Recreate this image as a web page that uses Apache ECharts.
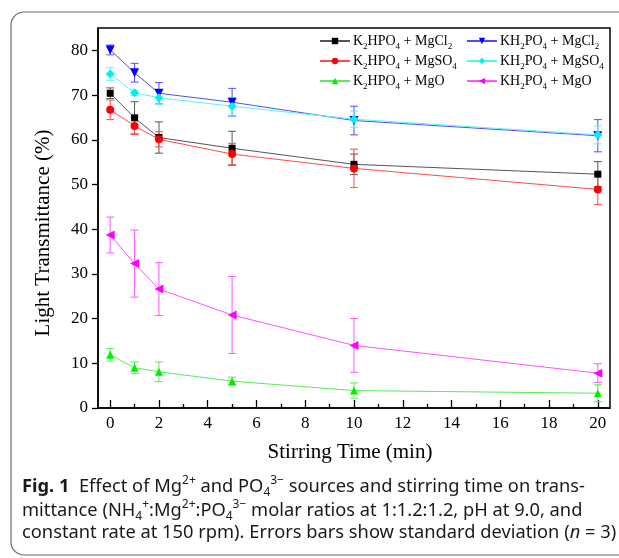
<!DOCTYPE html>
<html>
<head>
<meta charset="utf-8">
<script src="https://cdn.jsdelivr.net/npm/echarts@6/dist/echarts.min.js"></script>
<style>html,body{margin:0;padding:0;background:#fff}#c{width:619px;height:558px}</style>
</head>
<body>
<div id="c"></div>
<script>
// ---- data ----
const times = [0, 1, 2, 5, 10, 20];
const seriesNames = ['K2HPO4 + MgCl2', 'K2HPO4 + MgSO4', 'K2HPO4 + MgO', 'KH2PO4 + MgCl2', 'KH2PO4 + MgSO4', 'KH2PO4 + MgO'];
const k2hpo4_mgcl2 = [70.4, 64.9, 60.5, 58.1, 54.5, 52.3];
const k2hpo4_mgcl2_err = [1.2, 3.6, 3.5, 3.8, 2.3, 2.8];
const k2hpo4_mgso4 = [66.7, 63.1, 60.1, 56.8, 53.6, 48.9];
const k2hpo4_mgso4_err = [2.2, 1.9, 1.7, 2.4, 4.3, 3.4];
const k2hpo4_mgo = [11.9, 9.0, 8.1, 6.0, 3.9, 3.3];
const k2hpo4_mgo_err = [1.4, 1.3, 2.2, 0.9, 1.7, 1.9];
const kh2po4_mgcl2 = [80.1, 75.0, 70.4, 68.4, 64.3, 60.9];
const kh2po4_mgcl2_err = [1.1, 2.1, 2.4, 3.1, 3.2, 3.6];
const kh2po4_mgso4 = [74.7, 70.5, 69.4, 67.5, 64.6, 61.1];
const kh2po4_mgso4_err = [1.4, 0.6, 1.5, 2.0, 1.8, 2.0];
const kh2po4_mgo = [38.7, 32.3, 26.6, 20.8, 14.0, 7.8];
const kh2po4_mgo_err = [4.0, 7.5, 5.9, 8.6, 6.0, 2.1];
const yTicks = [0, 10, 20, 30, 40, 50, 60, 70, 80];
const xMajorTicks = [0, 2, 4, 6, 8, 10, 12, 14, 16, 18, 20];
const xMinorTicks = [1, 3, 5, 7, 9, 11, 13, 15, 17, 19];

// ---- styling ----
const values = [k2hpo4_mgcl2, k2hpo4_mgso4, k2hpo4_mgo, kh2po4_mgcl2, kh2po4_mgso4, kh2po4_mgo];
const errs = [k2hpo4_mgcl2_err, k2hpo4_mgso4_err, k2hpo4_mgo_err, kh2po4_mgcl2_err, kh2po4_mgso4_err, kh2po4_mgo_err];
const markerColors = ['#000000', '#ff0000', '#00ee00', '#0000ff', '#00f0f0', '#ff00ff'];
const lineColors = ['#555555', '#ff4a4a', '#55ee55', '#5050f0', '#55f5f5', '#ff55ff'];
const symbols = ['rect', 'circle', 'triangle', 'triangle', 'diamond', 'triangle'];
const symRot = [0, 0, 0, 180, 0, 90];
const symSizes = [7, 8, 8, 9, 9, 9];
const serif = '"Liberation Serif", "Times New Roman", serif';
const sans = '"Noto Sans", "Open Sans", sans-serif';

function legendLabel(name) {
  return name.replace(/([A-Za-z])(\d)/g, '$1{sub|$2}');
}

const series = [];
values.forEach((v, i) => {
  series.push({
    type: 'custom',
    name: 'err' + i,
    silent: true,
    z: 1,
    data: times.map((t, j) => [t, v[j], errs[i][j]]),
    encode: { x: 0, y: 1 },
    renderItem: function (params, api) {
      const x = api.value(0), y = api.value(1), e = api.value(2);
      const top = api.coord([x, y + e]);
      const bot = api.coord([x, y - e]);
      const w = 4;
      const st = { stroke: lineColors[i], lineWidth: 1 };
      return {
        type: 'group',
        children: [
          { type: 'line', shape: { x1: top[0], y1: top[1], x2: bot[0], y2: bot[1] }, style: st },
          { type: 'line', shape: { x1: top[0] - w, y1: top[1], x2: top[0] + w, y2: top[1] }, style: st },
          { type: 'line', shape: { x1: bot[0] - w, y1: bot[1], x2: bot[0] + w, y2: bot[1] }, style: st }
        ]
      };
    }
  });
});
values.forEach((v, i) => {
  series.push({
    type: 'line',
    name: seriesNames[i],
    data: times.map((t, j) => [t, v[j]]),
    symbol: symbols[i],
    symbolSize: symSizes[i],
    symbolRotate: symRot[i],
    showAllSymbol: true,
    z: 3,
    itemStyle: { color: markerColors[i], borderWidth: 0 },
    lineStyle: { color: lineColors[i], width: 1 },
    emphasis: { disabled: true },
    animation: false
  });
});

const richLegend = {
  n: { fontFamily: serif, fontSize: 14, color: '#000', lineHeight: 20 },
  sub: { fontFamily: serif, fontSize: 9, color: '#000', lineHeight: 9, verticalAlign: 'bottom' }
};
function mkLegend(left, names) {
  return {
    left: left, top: 31, orient: 'vertical',
    data: names,
    itemWidth: 30, itemHeight: 8, itemGap: 0,
    padding: 0,
    formatter: n => legendLabel(n),
    textStyle: { fontFamily: serif, fontSize: 14, color: '#000', lineHeight: 20, padding: [0, 0, 0, -2], rich: richLegend },
    selectedMode: false
  };
}

const capFs = 18.3;
const capStyle = {
  fontFamily: sans, fontSize: capFs, fill: '#1a1a1a',
  rich: {
    b: { fontFamily: sans, fontSize: capFs, fontWeight: 'bold', lineHeight: 24 },
    n: { fontFamily: sans, fontSize: capFs, lineHeight: 24 },
    sup: { fontFamily: sans, fontSize: 12, lineHeight: 14, verticalAlign: 'top' },
    sub: { fontFamily: sans, fontSize: 12, lineHeight: 12, verticalAlign: 'bottom' },
    it: { fontFamily: sans, fontSize: capFs, fontStyle: 'italic', lineHeight: 24 }
  }
};
const captionLines = [
  '{b|Fig. 1}{n|  Effect of Mg}{sup|2+}{n| and PO}{sub|4}{sup|3−}{n| sources and stirring time on trans-}',
  '{n|mittance (NH}{sub|4}{sup|+}{n|:Mg}{sup|2+}{n|:PO}{sub|4}{sup|3−}{n| molar ratios at 1:1.2:1.2, pH at 9.0, and}',
  '{n|constant rate at 150 rpm). Errors bars show standard deviation (}{it|n}{n| = 3)}'
];
const captionY = [475, 499, 524];

const chart = echarts.init(document.getElementById('c'), null, { renderer: 'canvas' });
chart.setOption({
  animation: false,
  backgroundColor: '#fff',
  grid: { left: 98, top: 28, right: 9, bottom: 150, show: true, borderColor: '#000', borderWidth: 1.5, backgroundColor: 'transparent' },
  legend: [
    mkLegend(319, [seriesNames[0], seriesNames[1], seriesNames[2]]),
    mkLegend(466, [seriesNames[3], seriesNames[4], seriesNames[5]])
  ],
  xAxis: [{
    type: 'value', min: -0.5, max: 20.5,
    name: 'Stirring Time (min)', nameLocation: 'middle', nameGap: 34,
    nameTextStyle: { fontFamily: serif, fontSize: 21, color: '#000', padding: [0, 8, 0, 0] },
    axisLine: { show: true, onZero: false, lineStyle: { color: '#000', width: 1.5 } },
    axisTick: { show: true, inside: true, length: 8, customValues: xMajorTicks, lineStyle: { color: '#000', width: 1.3 } },
    axisLabel: { customValues: xMajorTicks, fontFamily: serif, fontSize: 17, color: '#000', margin: 7 },
    splitLine: { show: false }
  }, {
    type: 'value', min: -0.5, max: 20.5, position: 'bottom',
    axisLine: { show: false },
    axisTick: { show: true, inside: true, length: 4, customValues: xMinorTicks, lineStyle: { color: '#000', width: 1.3 } },
    axisLabel: { show: false },
    splitLine: { show: false }
  }],
  yAxis: {
    type: 'value', min: 0, max: 85,
    name: 'Light Transmittance (%)', nameLocation: 'middle', nameGap: 44,
    nameTextStyle: { fontFamily: serif, fontSize: 21, color: '#000', padding: [0, 30, 0, 0] },
    axisLine: { show: true, onZero: false, lineStyle: { color: '#000', width: 1.5 } },
    axisTick: { show: true, inside: false, length: 6, customValues: yTicks, lineStyle: { color: '#000', width: 1.3 } },
    axisLabel: { customValues: yTicks, fontFamily: serif, fontSize: 17, color: '#000', margin: 10 },
    splitLine: { show: false }
  },
  series: series,
  graphic: [
    { type: 'rect', silent: true, shape: { x: 11, y: 12, width: 650, height: 543, r: 13 }, style: { fill: 'none', stroke: '#6a6a6a', lineWidth: 1.2 }, z: 0 }
  ].concat(captionLines.map((t, i) => ({
    type: 'text', left: 22, top: captionY[i], silent: true,
    style: Object.assign({ text: t }, capStyle)
  })))
});
</script>
</body>
</html>
